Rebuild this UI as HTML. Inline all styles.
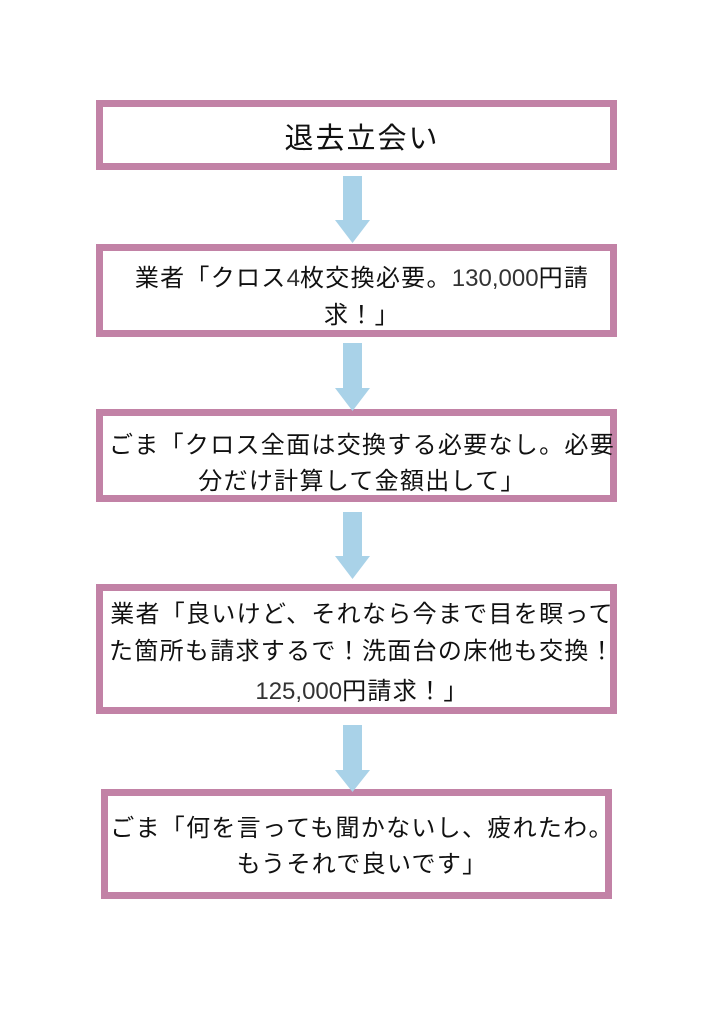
<!DOCTYPE html>
<html><head><meta charset="utf-8"><style>
body{margin:0;width:724px;height:1024px;background:#fff;position:relative;overflow:hidden;font-family:"Noto Sans CJK JP","Liberation Sans",sans-serif;color:#111}
.b{position:absolute;box-sizing:border-box;border:7px solid #c282a6;background:#fff}
.t{position:absolute;left:0;width:724px;text-align:center;white-space:nowrap;font-size:24px;letter-spacing:1.3px;line-height:30px}
.n{font-family:"Liberation Sans",sans-serif;font-weight:300;color:#333;letter-spacing:0}
.a{position:absolute}
</style></head><body>
<div class="b" style="left:96px;top:100px;width:521px;height:70px"></div>
<div class="b" style="left:96px;top:244px;width:521px;height:93px"></div>
<div class="b" style="left:96px;top:409px;width:521px;height:93px"></div>
<div class="b" style="left:96px;top:584px;width:521px;height:130px"></div>
<div class="b" style="left:101px;top:789px;width:511px;height:110px"></div>

<svg class="a" style="left:0;top:0" width="724" height="1024">
<g fill="#a9d2e8">
<polygon points="343,176 362,176 362,220 370,220 352.5,243 335,220 343,220"/>
<polygon points="343,343 362,343 362,388 370,388 352.5,411 335,388 343,388"/>
<polygon points="343,512 362,512 362,556 370,556 352.5,579 335,556 343,556"/>
<polygon points="343,725 362,725 362,770 370,770 352.5,792 335,770 343,770"/>
</g></svg>

<div class="t" style="top:119px;font-size:29px;letter-spacing:2px;line-height:34px;">退去立会い</div>
<div class="t" style="top:261px">業者「クロス<span class="n">4</span>枚交換必要。<span class="n">130,000</span>円請</div>
<div class="t" style="top:298px">求！」</div>
<div class="t" style="top:428px;left:0px">ごま「クロス全面は交換する必要なし。必要</div>
<div class="t" style="top:464px">分だけ計算して金額出して」</div>
<div class="t" style="top:597px">業者「良いけど、それなら今まで目を瞑って</div>
<div class="t" style="top:634px">た箇所も請求するで！洗面台の床他も交換！</div>
<div class="t" style="top:674px"><span class="n">125,000</span>円請求！」</div>
<div class="t" style="top:811px;left:0px">ごま「何を言っても聞かないし、疲れたわ。</div>
<div class="t" style="top:847px">もうそれで良いです」</div>
</body></html>
